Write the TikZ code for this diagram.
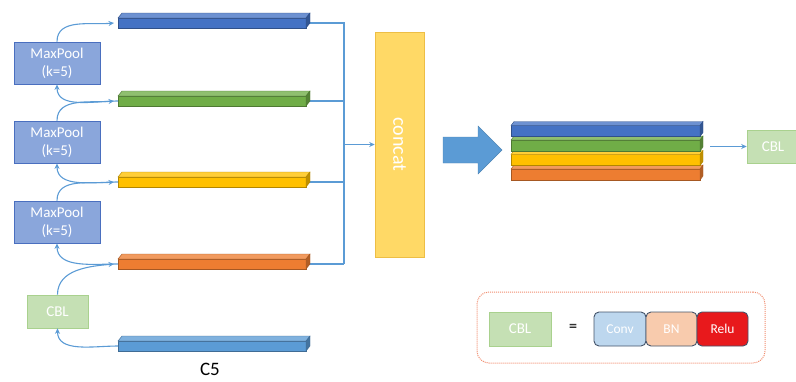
\documentclass[tikz,border=0pt]{standalone}
\usepackage{fontspec}
\setmainfont{Carlito}
\usetikzlibrary{arrows.meta,backgrounds}

\definecolor{cblue}{HTML}{4472C4}
\definecolor{cgreen}{HTML}{70AD47}
\definecolor{cyellow}{HTML}{FFC000}
\definecolor{corange}{HTML}{ED7D31}
\definecolor{clight}{HTML}{5B9BD5}
\definecolor{clink}{HTML}{5B9BD5}
\definecolor{cpool}{HTML}{8AA6DB}
\definecolor{cpoolline}{HTML}{4A6FBF}
\definecolor{cpale}{HTML}{C5E0B4}
\definecolor{cpaleline}{HTML}{A9D18E}
\definecolor{cconcat}{HTML}{FFD966}
\definecolor{cconcatline}{HTML}{EDBE45}
\definecolor{cslate}{HTML}{44546A}
\definecolor{cconv}{HTML}{BDD7EE}
\definecolor{cbn}{HTML}{F8CBAD}
\definecolor{crelu}{HTML}{E8191C}
\definecolor{cdash}{HTML}{F08C6E}

% top and side faces of a flat prism whose front face is node #1
\newcommand\slabfaces[4]{%
  \filldraw[fill=#2!78!white, draw=#2!70!black, line width=0.4pt]
    (#1.north west) -- ++(#3,-#4) -- ([shift={(#3,-#4)}]#1.north east)
    -- (#1.north east) -- cycle;
  \filldraw[fill=#2!75!black, draw=#2!70!black, line width=0.4pt]
    (#1.north east) -- ++(#3,-#4) -- ([shift={(#3,-#4)}]#1.south east)
    -- (#1.south east) -- cycle;}

\begin{document}
\begin{tikzpicture}[x=1pt,y=-1pt,
  barfront/.style={draw=#1!70!black, fill=#1, line width=0.4pt,
    minimum width=188pt, minimum height=10pt, inner sep=0pt, outer sep=0pt},
  stackfront/.style={draw=#1!70!black, fill=#1, line width=0.4pt,
    minimum width=189pt, minimum height=11pt, inner sep=0pt, outer sep=0pt},
  poolbox/.style={draw=cpoolline, fill=cpool, line width=0.8pt,
    minimum width=86pt, minimum height=42pt, inner sep=0pt, text=white,
    align=center, font=\fontsize{15}{18}\selectfont},
  cblbox/.style={draw=cpaleline, fill=cpale, line width=0.6pt,
    inner sep=0pt, text=white, font=\fontsize{15}{17}\selectfont},
  unitbox/.style={draw=cslate, line width=0.9pt, rounded corners=5pt,
    minimum height=34pt, inner sep=0pt, text=white,
    font=\fontsize{13.5}{15}\selectfont},
  link/.style={draw=clink, line width=1.1pt,
    -{Stealth[length=5.5pt,width=5pt]}},
  feed/.style={draw=clink, line width=1.1pt}]

\useasboundingbox (0,0) rectangle (796,381);

% feature maps on the left
\node[barfront=cblue]   (b1) at (212,23)  {};
\node[barfront=cgreen]  (b2) at (212,101) {};
\node[barfront=cyellow] (b3) at (212,182) {};
\node[barfront=corange] (b4) at (212,264) {};
\node[barfront=clight]  (b0) at (212,346) {};
\slabfaces{b1}{cblue}{4}{5}
\slabfaces{b2}{cgreen}{4}{5}
\slabfaces{b3}{cyellow}{4}{5}
\slabfaces{b4}{corange}{4}{5}
\slabfaces{b0}{clight}{4}{5}

% pooling chain
\node[poolbox] (mp1) at (57,63)  {MaxPool\\(k=5)};
\node[poolbox] (mp2) at (57,142) {MaxPool\\(k=5)};
\node[poolbox] (mp3) at (57,222) {MaxPool\\(k=5)};
\node[cblbox, minimum width=61pt, minimum height=33pt] (cbl) at (57.5,311.5) {CBL};

\node[font=\fontsize{19}{21}\selectfont, text=black, inner sep=0pt] (c5) at (210,369) {C5};

\draw[link] (b0.west) to[out=180,in=-90] (cbl.south);
\draw[link] (cbl.north) to[out=90,in=185] ([xshift=-4pt]b4.west);
\draw[link] (b4.west) to[out=180,in=-90] (mp3.south);
\draw[link] (mp3.north) to[out=90,in=185] ([xshift=-4pt]b3.west);
\draw[link] (b3.west) to[out=180,in=-90] (mp2.south);
\draw[link] (mp2.north) to[out=90,in=185] ([xshift=-4pt]b2.west);
\draw[link] (b2.west) to[out=180,in=-90] (mp1.south);
\draw[link] (mp1.north) to[out=90,in=185] ([xshift=-4pt]b1.west);

% concatenation
\node[draw=cconcatline, fill=cconcat, line width=0.6pt,
  minimum width=49pt, minimum height=225pt, inner sep=0pt] (cat) at (399.5,144.5) {};
\node[rotate=-90, text=white, font=\fontsize{20}{22}\selectfont] (catlbl) at (cat.center) {concat};

\coordinate (jtop) at (344,23);
\coordinate (jbot) at (344,264);
\coordinate (trunk) at (344,144.5);
\begin{scope}[on background layer]
  \draw[feed] (b1.east) -| (jbot);
  \draw[feed] (b2.east) -- (b2.east -| jbot);
  \draw[feed] (b3.east) -- (b3.east -| jbot);
  \draw[feed] (b4.east) -- (jbot);
\end{scope}
\draw[link] (trunk) -- (cat.west);

% wide arrow
\filldraw[fill=clight, draw=clight!85!black, line width=0.4pt]
  (443,137) -- (478,137) -- (478,126) -- (502,150) -- (478,174)
  -- (478,163) -- (443,163) -- cycle;

% concatenated stack
\node[stackfront=corange] (s4) at (605.5,174.5) {};
\slabfaces{s4}{corange}{3}{4}
\node[stackfront=cyellow] (s3) at (605.5,160) {};
\slabfaces{s3}{cyellow}{3}{4}
\node[stackfront=cgreen]  (s2) at (605.5,145.5) {};
\slabfaces{s2}{cgreen}{3}{4}
\node[stackfront=cblue]   (s1) at (605.5,131) {};
\slabfaces{s1}{cblue}{3}{4}

\node[cblbox, minimum width=52pt, minimum height=33pt] (cblr) at (773,146.5) {CBL};
\draw[link, shorten <=10pt] (s2.east |- cblr.west) -- (cblr.west);

% legend
\node[draw=cdash, densely dotted, line width=1pt, rounded corners=12pt,
  minimum width=288pt, minimum height=71pt] (legend) at (621,327.5) {};
\node[cblbox, minimum width=62pt, minimum height=34pt] (lcbl) at (520,329) {CBL};
\node[font=\bfseries\fontsize{16}{18}\selectfont, text=black!80] (eq) at (573,328) {=};
\node[unitbox, fill=cconv, minimum width=52pt] (conv) at (620,329) {Conv};
\node[unitbox, fill=cbn, minimum width=51pt] (bn) at (671.5,329) {BN};
\node[unitbox, fill=crelu, minimum width=51pt] (relu) at (722.5,329) {Relu};

\end{tikzpicture}
\end{document}
